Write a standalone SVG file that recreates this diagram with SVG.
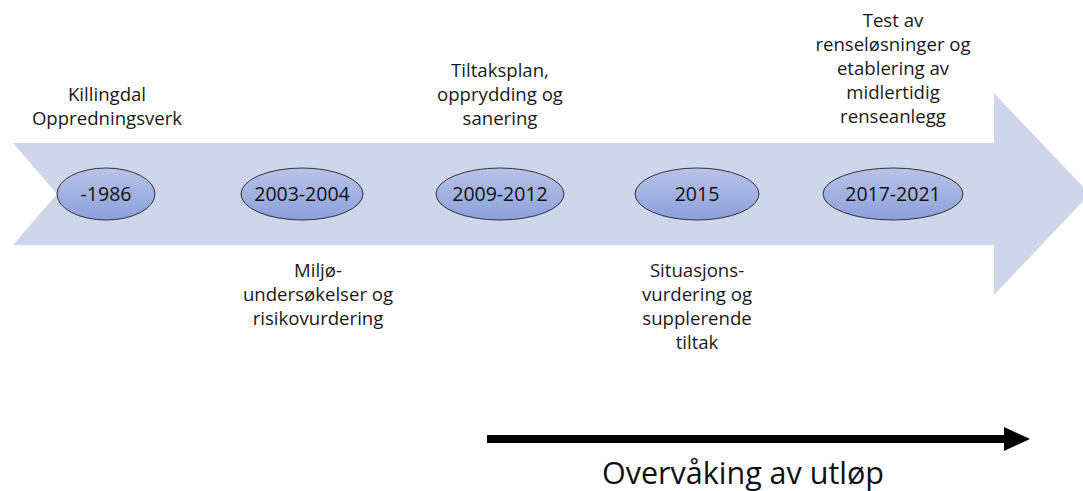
<svg xmlns="http://www.w3.org/2000/svg" width="1083" height="491" viewBox="0 0 1083 491">
<style>
.lbl{font-family:"Open Sans","Liberation Sans",sans-serif;font-size:18.6px;fill:#1a1a1a;text-anchor:middle}
.yr{font-family:"Open Sans","Liberation Sans",sans-serif;font-size:19.5px;fill:#111;text-anchor:middle}
.ell{fill:url(#eg);stroke:#333;stroke-width:1}
</style>
<defs>
<linearGradient id="eg" x1="0" y1="0" x2="0" y2="1">
<stop offset="0" stop-color="#b9c3e8"/>
<stop offset="1" stop-color="#8b9fdb"/>
</linearGradient>
</defs>
<rect width="1083" height="491" fill="#fff"/>
<g id="timeline-arrow">
<path d="M13,143 L994,143 L994,93 L1090,194 L994,295 L994,245 L13,245 L57,194 Z" fill="#cfd5ea"/>
</g>
<g id="n1986"><ellipse class="ell" cx="106" cy="194" rx="49" ry="26"/><text class="yr" x="106" y="201">-1986</text></g>
<g id="n2003"><ellipse class="ell" cx="302" cy="194" rx="61" ry="26"/><text class="yr" x="302" y="201">2003-2004</text></g>
<g id="n2009"><ellipse class="ell" cx="500" cy="194" rx="64" ry="26"/><text class="yr" x="500" y="201">2009-2012</text></g>
<g id="n2015"><ellipse class="ell" cx="697" cy="194" rx="62" ry="26"/><text class="yr" x="697" y="201">2015</text></g>
<g id="n2017"><ellipse class="ell" cx="893" cy="194" rx="70" ry="26"/><text class="yr" x="893" y="201">2017-2021</text></g>
<g id="t1986"><text class="lbl" x="107" y="101">Killingdal</text><text class="lbl" x="107" y="125">Oppredningsverk</text></g>
<g id="t2009"><text class="lbl" x="500" y="77">Tiltaksplan,</text><text class="lbl" x="500" y="101">opprydding og</text><text class="lbl" x="500" y="125">sanering</text></g>
<g id="t2017"><text class="lbl" x="893" y="27">Test av</text><text class="lbl" x="893" y="51">renseløsninger og</text><text class="lbl" x="893" y="75">etablering av</text><text class="lbl" x="893" y="99">midlertidig</text><text class="lbl" x="893" y="123">renseanlegg</text></g>
<g id="t2003"><text class="lbl" x="318" y="277">Miljø-</text><text class="lbl" x="318" y="301">undersøkelser og</text><text class="lbl" x="318" y="325">risikovurdering</text></g>
<g id="t2015"><text class="lbl" x="697" y="277">Situasjons-</text><text class="lbl" x="697" y="301">vurdering og</text><text class="lbl" x="697" y="325">supplerende</text><text class="lbl" x="697" y="349">tiltak</text></g>
<g id="connectors">
<line x1="487" y1="439" x2="1006" y2="439" stroke="#000" stroke-width="8"/>
<path d="M1004,427 L1030,439 L1004,451 Z" fill="#000"/>
</g>
<g id="monitoring"><text x="743" y="484" style="font-family:'Open Sans','Liberation Sans',sans-serif;font-size:30.5px;fill:#111;text-anchor:middle">Overvåking av utløp</text></g>
</svg>
